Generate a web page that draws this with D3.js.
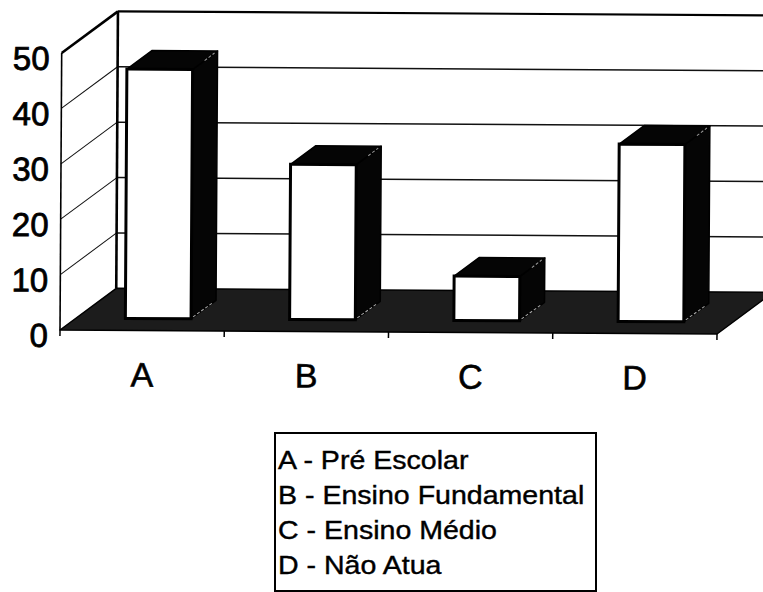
<!DOCTYPE html>
<html>
<head>
<meta charset="utf-8">
<script src="https://cdn.jsdelivr.net/npm/d3@7"></script>
<style>
  html, body { margin: 0; padding: 0; background: #fff; }
  svg { display: block; }
  text { font-family: "Liberation Sans", Arial, sans-serif; fill: #000; }
</style>
</head>
<body>
<svg id="chart" width="763" height="592"></svg>
<script>
// Data
const categories = ["A", "B", "C", "D"];
const values = [45, 28, 8, 32];
const yTicks = [0, 10, 20, 30, 40, 50];
const legendLabels = [
  "A - Pré Escolar",
  "B - Ensino Fundamental",
  "C - Ensino Médio",
  "D - Não Atua"
];

const W = 763, H = 592;
const svg = d3.select("#chart");

// Front plane of the 3D box and its oblique depth offset
const xLeft = 60, xRight = 717, yBase = 330, yTop = 53;
const depthX = 56, depthY = 42;

const x = d3.scaleBand().domain(categories).range([xLeft, xRight]);
const y = d3.scaleLinear().domain([0, 50]).range([yBase, yTop]);

// project a front-plane x and a value into the box at depth z (0 = front, 1 = back)
const P = (px, v, z) => [px + depthX * z, y(v) - depthY * z];
const poly = pts => pts.map(p => p.join(",")).join(" ");

// the whole plot sits a touch off-level
const g = svg.append("g").attr("transform", `rotate(0.35, ${xLeft}, ${yBase})`);

// back wall
g.append("polygon")
  .attr("points", poly([P(xLeft, 0, 1), P(xLeft, 50, 1), P(W + 80, 50, 1), P(W + 80, 0, 1)]))
  .attr("fill", "#fff");
const inner = yTicks.filter(v => v > 0 && v < 50);
g.selectAll("line.backgrid").data(inner).join("line")
  .attr("class", "backgrid")
  .attr("x1", v => P(xLeft, v, 1)[0]).attr("y1", v => P(xLeft, v, 1)[1])
  .attr("x2", W + 80).attr("y2", v => P(xLeft, v, 1)[1])
  .attr("stroke", "#111").attr("stroke-width", 1.5);
g.append("line")
  .attr("x1", P(xLeft, 50, 1)[0]).attr("y1", P(xLeft, 50, 1)[1])
  .attr("x2", W + 80).attr("y2", P(xLeft, 50, 1)[1])
  .attr("stroke", "#000").attr("stroke-width", 2.2);

// left side wall
g.append("polygon")
  .attr("points", poly([P(xLeft, 0, 0), P(xLeft, 50, 0), P(xLeft, 50, 1), P(xLeft, 0, 1)]))
  .attr("fill", "#fff");
g.selectAll("line.sidegrid").data(inner).join("line")
  .attr("class", "sidegrid")
  .attr("x1", v => P(xLeft, v, 0)[0]).attr("y1", v => P(xLeft, v, 0)[1])
  .attr("x2", v => P(xLeft, v, 1)[0]).attr("y2", v => P(xLeft, v, 1)[1])
  .attr("stroke", "#111").attr("stroke-width", 1);
g.append("line")
  .attr("x1", P(xLeft, 0, 0)[0]).attr("y1", P(xLeft, 0, 0)[1])
  .attr("x2", P(xLeft, 50, 0)[0]).attr("y2", P(xLeft, 50, 0)[1])
  .attr("stroke", "#000").attr("stroke-width", 1.6);
g.append("line")
  .attr("x1", P(xLeft, 50, 0)[0]).attr("y1", P(xLeft, 50, 0)[1])
  .attr("x2", P(xLeft, 50, 1)[0]).attr("y2", P(xLeft, 50, 1)[1])
  .attr("stroke", "#000").attr("stroke-width", 2.6);
g.append("line")
  .attr("x1", P(xLeft, 0, 1)[0]).attr("y1", P(xLeft, 0, 1)[1])
  .attr("x2", P(xLeft, 50, 1)[0]).attr("y2", P(xLeft, 50, 1)[1])
  .attr("stroke", "#000").attr("stroke-width", 2.6);

// floor
g.append("polygon")
  .attr("points", poly([P(xLeft, 0, 0), P(xRight, 0, 0), P(xRight, 0, 1), P(xLeft, 0, 1)]))
  .attr("fill", "#1c1c1c")
  .attr("stroke", "#000").attr("stroke-width", 1.5).attr("stroke-linejoin", "round");

// bars
const zF = 0.286, zB = 0.73;
const barW = x.bandwidth() * 0.4;
const bx = c => x(c) + (x.bandwidth() - barW) / 2;
const bars = g.selectAll("g.bar").data(categories.map((c, i) => ({ c, v: values[i] })))
  .join("g").attr("class", "bar");

bars.append("polygon") // side face
  .attr("points", d => poly([
    P(bx(d.c) + barW, d.v, zF), P(bx(d.c) + barW, d.v, zB),
    P(bx(d.c) + barW, 0, zB), P(bx(d.c) + barW, 0, zF)]))
  .attr("fill", "#050505").attr("stroke", "#000").attr("stroke-width", 1.5)
  .attr("stroke-linejoin", "round");
bars.append("polygon") // top face
  .attr("points", d => poly([
    P(bx(d.c), d.v, zF), P(bx(d.c) + barW, d.v, zF),
    P(bx(d.c) + barW, d.v, zB), P(bx(d.c), d.v, zB)]))
  .attr("fill", "#050505").attr("stroke", "#000").attr("stroke-width", 1.5)
  .attr("stroke-linejoin", "round");
bars.append("rect") // front face
  .attr("x", d => P(bx(d.c), d.v, zF)[0])
  .attr("y", d => P(bx(d.c), d.v, zF)[1])
  .attr("width", barW)
  .attr("height", d => y(0) - y(d.v))
  .attr("fill", "#fff").attr("stroke", "#000").attr("stroke-width", 3);
// faint edges on the dark faces
bars.append("line")
  .attr("x1", d => P(bx(d.c) + barW, 0, zF)[0] + 2).attr("y1", d => P(bx(d.c) + barW, 0, zF)[1] - 2)
  .attr("x2", d => P(bx(d.c) + barW, 0, zB)[0] - 4).attr("y2", d => P(bx(d.c) + barW, 0, zB)[1] + 3)
  .attr("stroke", "#aaa").attr("stroke-width", 1).attr("stroke-dasharray", "3 2");
bars.append("line")
  .attr("x1", d => P(bx(d.c) + barW, d.v, 0.5)[0]).attr("y1", d => P(bx(d.c) + barW, d.v, 0.5)[1])
  .attr("x2", d => P(bx(d.c) + barW, d.v, zB)[0] - 3).attr("y2", d => P(bx(d.c) + barW, d.v, zB)[1] + 2)
  .attr("stroke", "#999").attr("stroke-width", 1).attr("stroke-dasharray", "3 2");

// category ticks on the front edge of the floor
const edges = categories.map(c => x(c)).concat([xRight]);
g.selectAll("line.xtick").data(edges).join("line")
  .attr("class", "xtick")
  .attr("x1", d => d).attr("x2", d => d)
  .attr("y1", yBase).attr("y2", yBase + 6)
  .attr("stroke", "#000").attr("stroke-width", 1.5);

// value axis along the front-left edge
const yAxis = g.append("g")
  .attr("transform", `translate(${xLeft},0)`)
  .call(d3.axisLeft(y).tickValues(yTicks).tickSize(0).tickPadding(12).tickFormat(d3.format("d")));
yAxis.select(".domain").remove();
yAxis.selectAll("text")
  .attr("dy", "0.5em")
  .style("font-family", "'Liberation Sans', Arial, sans-serif")
  .style("font-size", "33px")
  .attr("fill", "#000")
  .attr("stroke", "#000").attr("stroke-width", 0.8);

// category labels
g.selectAll("text.cat").data(categories).join("text")
  .attr("class", "cat")
  .attr("x", c => x(c) + x.bandwidth() / 2)
  .attr("y", 386)
  .attr("text-anchor", "middle")
  .style("font-size", "34px")
  .attr("stroke", "#000").attr("stroke-width", 0.6)
  .text(c => c);

// legend
const legend = svg.append("g");
legend.append("rect")
  .attr("x", 275).attr("y", 433).attr("width", 321).attr("height", 158)
  .attr("fill", "#fff").attr("stroke", "#000").attr("stroke-width", 2);
legend.selectAll("text").data(legendLabels).join("text")
  .attr("transform", (d, i) => `translate(278, ${469 + i * 35}) scale(1.12, 1)`)
  .style("font-size", "25.5px")
  .attr("stroke", "#000").attr("stroke-width", 0.4)
  .text(d => d);
</script>
</body>
</html>
